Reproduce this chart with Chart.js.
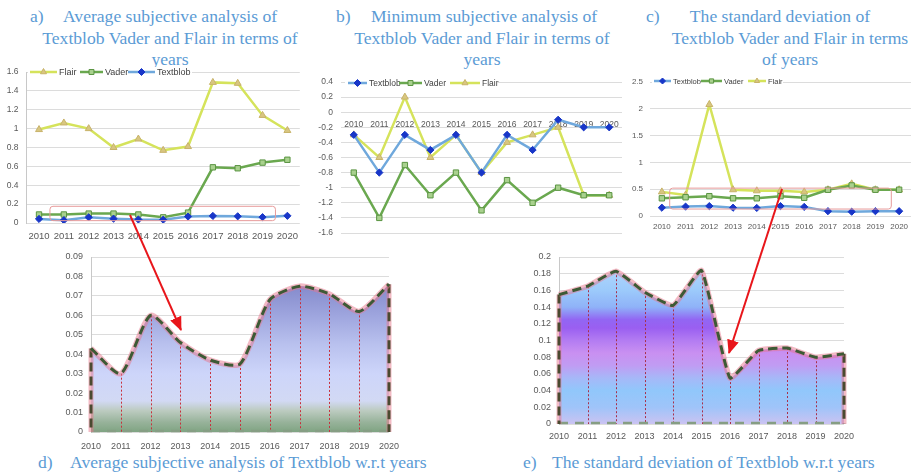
<!DOCTYPE html>
<html>
<head>
<meta charset="utf-8">
<script src="https://cdn.jsdelivr.net/npm/chart.js@4.4.1/dist/chart.umd.min.js"></script>
<style>
  html, body { margin: 0; padding: 0; background: #fff; }
  #page { position: relative; width: 916px; height: 473px; overflow: hidden; background: #fff; }
  #page canvas { position: absolute; }
  .cap { position: absolute; font-family: "Liberation Serif", "Times New Roman", serif; font-size: 17.6px;
         color: #5b9bd5; white-space: nowrap; line-height: 1; }
  .mid { transform: translate(-50%, -50%); }
  .lft { transform: translate(0, -50%); }
  #arrows { position: absolute; left: 0; top: 0; pointer-events: none; }
</style>
</head>
<body>
<div id="page">
  <!-- panel captions -->
  <div class="cap lft" style="left:30px;top:17px">a)</div>
  <div class="cap mid" style="left:170px;top:17px">Average subjective analysis of</div>
  <div class="cap mid" style="left:170px;top:39px">Textblob Vader and Flair in terms of</div>
  <div class="cap mid" style="left:170px;top:60px">years</div>

  <div class="cap lft" style="left:336px;top:17px">b)</div>
  <div class="cap mid" style="left:484px;top:17px">Minimum subjective analysis of</div>
  <div class="cap mid" style="left:482px;top:39px">Textblob Vader and Flair in terms of</div>
  <div class="cap mid" style="left:482px;top:60px">years</div>

  <div class="cap lft" style="left:646px;top:17px">c)</div>
  <div class="cap mid" style="left:780px;top:17px">The standard deviation of</div>
  <div class="cap mid" style="left:790px;top:39px">Textblob Vader and Flair in terms</div>
  <div class="cap mid" style="left:790px;top:60px">of years</div>

  <div class="cap lft" style="left:38px;top:463px">d)</div>
  <div class="cap lft" style="left:70px;top:463px">Average subjective analysis of Textblob w.r.t years</div>
  <div class="cap lft" style="left:523px;top:463px">e)</div>
  <div class="cap lft" style="left:552px;top:463px">The standard deviation of Textblob w.r.t years</div>

  <canvas id="cA"></canvas>
  <canvas id="cB"></canvas>
  <canvas id="cC"></canvas>
  <canvas id="cD"></canvas>
  <canvas id="cE"></canvas>

  <svg id="arrows" width="916" height="473">
    <defs>
      <marker id="head" markerUnits="userSpaceOnUse" markerWidth="14" markerHeight="12" refX="13" refY="6" orient="auto">
        <path d="M0,0 L14,6 L0,12 z" fill="#e8161b"/>
      </marker>
    </defs>
    <line x1="130" y1="215" x2="181" y2="330" stroke="#e8161b" stroke-width="2" marker-end="url(#head)"/>
    <line x1="782" y1="189" x2="729" y2="353" stroke="#e8161b" stroke-width="2" marker-end="url(#head)"/>
  </svg>
</div>

<script>
// ---- data ----
const years = ['2010', '2011', '2012', '2013', '2014', '2015', '2016', '2017', '2018', '2019', '2020'];

// a) average subjectivity per year
const avgFlair    = [0.99, 1.06, 1.00, 0.80, 0.89, 0.77, 0.81, 1.49, 1.48, 1.14, 0.98];
const avgVader    = [0.09, 0.09, 0.10, 0.10, 0.09, 0.06, 0.11, 0.59, 0.58, 0.64, 0.67];
const avgTextblob = [0.043, 0.030, 0.060, 0.046, 0.037, 0.035, 0.068, 0.075, 0.071, 0.062, 0.076];

// b) minimum subjectivity per year
const minTextblob = [-0.3, -0.8, -0.3, -0.5, -0.3, -0.8, -0.3, -0.5, -0.1, -0.2, -0.2];
const minVader    = [-0.8, -1.4, -0.7, -1.1, -0.8, -1.3, -0.9, -1.2, -1.0, -1.1, -1.1];
const minFlair    = [-0.3, -0.6, 0.2, -0.6, -0.3, -0.8, -0.4, -0.3, -0.2, -1.1, -1.1];

// c) standard deviation per year
const sdTextblob = [0.155, 0.175, 0.185, 0.155, 0.15, 0.185, 0.17, 0.09, 0.08, 0.09, 0.09];
const sdVader    = [0.33, 0.35, 0.37, 0.33, 0.33, 0.37, 0.34, 0.49, 0.57, 0.49, 0.49];
const sdFlair    = [0.45, 0.39, 2.08, 0.49, 0.47, 0.47, 0.45, 0.49, 0.60, 0.49, 0.49];

// e) standard deviation of Textblob alone
const sdTextblobDetail = [0.155, 0.165, 0.183, 0.158, 0.142, 0.184, 0.055, 0.088, 0.091, 0.080, 0.084];

// value axis ranges: [min, max, step]
const avgRange    = [0, 1.6, 0.2];
const minRange    = [-1.6, 0.4, 0.2];
const sdRange     = [0, 2.5, 0.5];
const avgTbRange  = [0, 0.09, 0.01];
const sdTbRange   = [0, 0.2, 0.02];

// ---- styling helpers ----
const TICK_FONT = "'Liberation Sans', Arial, sans-serif";
const TICK_COLOR = '#595959';
const fmt = v => String(Math.round(v * 1000) / 1000);

const FLAIR    = { line: '#d5e35b', fill: '#d8c680', edge: '#c8b36a', point: 'triangle', r: 4,   w: 2.5 };
const VADER    = { line: '#6aa84f', fill: '#a9d18e', edge: '#5a9442', point: 'rect',     r: 3.8, w: 2.5 };
const TEXTBLOB = { line: '#6fa8dc', fill: '#1836c8', edge: '#1836c8', point: 'rectRot',  r: 3.6, w: 2.5 };

function series(label, data, s) {
  return {
    label, data, borderColor: s.line, backgroundColor: s.fill,
    pointBackgroundColor: s.fill, pointBorderColor: s.edge, pointBorderWidth: 1,
    pointStyle: s.point, pointRadius: s.r, borderWidth: s.w, tension: 0, fill: false
  };
}

function yAxis(range, width, size, pad, border) {
  return {
    min: range[0], max: range[1],
    ticks: { stepSize: range[2], callback: fmt, color: TICK_COLOR, font: { family: TICK_FONT, size }, padding: pad },
    grid: { color: '#dcdcdc', drawTicks: false, lineWidth: 1 },
    border: { display: border, color: '#c8c8c8' },
    afterFit(s) { s.width = width; s.paddingTop = 0; s.paddingBottom = 0; }
  };
}

function xAxis(height, size, pad, offset, extra) {
  return Object.assign({
    type: 'category', offset,
    grid: { display: false, drawTicks: false },
    border: { display: false },
    ticks: { color: TICK_COLOR, font: { family: TICK_FONT, size }, padding: pad, maxRotation: 0, autoSkip: false },
    afterFit(s) { if (height != null) s.height = height; s.paddingLeft = 0; s.paddingRight = 0; }
  }, extra || {});
}

// legend drawn as line + marker + name, in page coordinates
const seriesKey = {
  id: 'seriesKey',
  afterDatasetsDraw(chart, args, o) {
    if (!o.items) return;
    const ctx = chart.ctx;
    const dx = o.dx, dy = o.dy, y = o.y - dy;
    ctx.save();
    ctx.fillStyle = '#fff';
    ctx.fillRect(o.bg[0] - dx, y - 5, o.bg[1] - o.bg[0], 10);
    ctx.font = o.size + 'px ' + TICK_FONT;
    ctx.textBaseline = 'middle';
    o.items.forEach(it => {
      const ds = chart.data.datasets[it.ds];
      const x0 = it.x0 - dx, x1 = it.x1 - dx;
      ctx.strokeStyle = ds.borderColor; ctx.lineWidth = ds.borderWidth;
      ctx.beginPath(); ctx.moveTo(x0, y); ctx.lineTo(x1, y); ctx.stroke();
      ctx.fillStyle = ds.pointBackgroundColor; ctx.strokeStyle = ds.pointBorderColor; ctx.lineWidth = 1;
      Chart.helpers.drawPoint(ctx, { pointStyle: ds.pointStyle, radius: o.r, rotation: 0, borderWidth: 1 }, (x0 + x1) / 2, y);
      ctx.fillStyle = '#404040';
      ctx.fillText(ds.label, x1 + 2, y + 0.5);
    });
    ctx.restore();
  }
};

// thin rounded frame around a data region (category index / value units)
const focusBox = {
  id: 'focusBox',
  afterDatasetsDraw(chart, args, o) {
    if (!o.box) return;
    const { x, y } = chart.scales;
    const b = o.box;
    const l = x.getPixelForValue(b[0]), r = x.getPixelForValue(b[1]);
    const t = y.getPixelForValue(b[3]), btm = y.getPixelForValue(b[2]);
    const ctx = chart.ctx;
    ctx.save();
    ctx.strokeStyle = '#e79a9a'; ctx.lineWidth = 1;
    ctx.beginPath();
    ctx.roundRect(l, t, r - l, btm - t, 3);
    ctx.stroke();
    ctx.restore();
  }
};

// area decorations: dotted drop lines, dashed outline edges and base
const areaTrim = {
  id: 'areaTrim',
  afterDatasetDraw(chart, args, o) {
    if (o.fillIndex == null || args.index !== o.fillIndex) return;
    const ctx = chart.ctx;
    const pts = chart.getDatasetMeta(args.index).data;
    const y0 = chart.scales.y.getPixelForValue(0);
    const n = pts.length;
    ctx.save();
    // drop lines
    ctx.strokeStyle = o.dropColor; ctx.lineWidth = 1; ctx.setLineDash([2, 2]);
    for (let i = 1; i < n - 1; i++) {
      ctx.beginPath(); ctx.moveTo(Math.round(pts[i].x) + 0.5, pts[i].y); ctx.lineTo(Math.round(pts[i].x) + 0.5, y0); ctx.stroke();
    }
    // base dashes
    ctx.setLineDash([9, 7]);
    ctx.strokeStyle = o.baseColor; ctx.lineWidth = 2.5;
    ctx.beginPath(); ctx.moveTo(pts[0].x, y0 - 1); ctx.lineTo(pts[n - 1].x, y0 - 1); ctx.stroke();
    // side edges with glow
    [pts[0], pts[n - 1]].forEach(p => {
      ctx.setLineDash([]);
      ctx.strokeStyle = 'rgba(232,120,140,0.5)'; ctx.lineWidth = 5;
      ctx.beginPath(); ctx.moveTo(p.x, p.y); ctx.lineTo(p.x, y0); ctx.stroke();
      ctx.setLineDash([9, 5]);
      ctx.strokeStyle = o.edgeColor; ctx.lineWidth = 3;
      ctx.beginPath(); ctx.moveTo(p.x, p.y); ctx.lineTo(p.x, y0); ctx.stroke();
    });
    ctx.restore();
  }
};

function gradientFill(stops) {
  return (c) => {
    const chart = c.chart;
    if (!chart.chartArea) return 'rgba(0,0,0,0)';
    const y = chart.scales.y;
    const top = y.getPixelForValue(y.max), bot = y.getPixelForValue(y.min);
    const g = chart.ctx.createLinearGradient(0, top, 0, bot);
    stops.forEach(([v, col]) => g.addColorStop((y.getPixelForValue(v) - top) / (bot - top), col));
    return g;
  };
}

function place(id, left, top, width, height) {
  const cv = document.getElementById(id);
  cv.width = width; cv.height = height;
  cv.style.left = left + 'px'; cv.style.top = top + 'px';
  cv.style.width = width + 'px'; cv.style.height = height + 'px';
  return cv;
}

const common = (padding, plugins) => ({
  responsive: false, animation: false, devicePixelRatio: 1,
  layout: { padding },
  plugins: Object.assign({ legend: { display: false }, tooltip: { enabled: false } }, plugins)
});

// ---- a) average of the three analysers ----
(function () {
  const L = 0, T = 62;
  const cv = place('cA', L, T, 305, 190);
  new Chart(cv, {
    type: 'line',
    data: { labels: years, datasets: [
      series('Textblob', avgTextblob, TEXTBLOB),
      series('Vader', avgVader, VADER),
      series('Flair', avgFlair, FLAIR)
    ] },
    options: Object.assign(common({ left: 0, top: 10, right: 5.2, bottom: 0 }, {
      seriesKey: { dx: L, dy: T, y: 72, size: 9, r: 3.5, bg: [28, 192], items: [
        { ds: 2, x0: 30, x1: 57 }, { ds: 1, x0: 80, x1: 103 }, { ds: 0, x0: 128, x1: 155 }
      ] },
      focusBox: { box: [0.44, 9.52, 0.025, 0.177] }
    }), {
      scales: {
        x: xAxis(29, 9.5, 8, true),
        y: yAxis(avgRange, 26.6, 8.5, 8, true)
      }
    }),
    plugins: [seriesKey, focusBox]
  });
})();

// ---- b) minimum of the three analysers ----
(function () {
  const L = 305, T = 70;
  const cv = place('cB', L, T, 322, 168);
  new Chart(cv, {
    type: 'line',
    data: { labels: years, datasets: [
      series('Textblob', minTextblob, TEXTBLOB),
      series('Vader', minVader, VADER),
      series('Flair', minFlair, FLAIR)
    ] },
    options: Object.assign(common({ left: 0, top: 12, right: 2, bottom: 5 }, {
      seriesKey: { dx: L, dy: T, y: 83, size: 8.5, r: 3.5, bg: [345, 498], items: [
        { ds: 0, x0: 348, x1: 367 }, { ds: 1, x0: 399, x1: 422 }, { ds: 2, x0: 450, x1: 480 }
      ] }
    }), {
      scales: {
        x: xAxis(null, 8.5, 7, true, { position: { y: 0 } }),
        y: yAxis(minRange, 36, 8.5, 8, false)
      }
    }),
    plugins: [seriesKey]
  });
})();

// ---- c) standard deviation of the three analysers ----
(function () {
  const L = 615, T = 70;
  const cv = place('cC', L, T, 301, 170);
  new Chart(cv, {
    type: 'line',
    data: { labels: years, datasets: [
      series('Textblob', sdTextblob, TEXTBLOB),
      series('Vader', sdVader, VADER),
      series('Flair', sdFlair, FLAIR)
    ] },
    options: Object.assign(common({ left: 0, top: 12, right: 1, bottom: 0 }, {
      seriesKey: { dx: L, dy: T, y: 81, size: 7.5, r: 3, bg: [652, 783], items: [
        { ds: 0, x0: 654, x1: 671 }, { ds: 1, x0: 701, x1: 722 }, { ds: 2, x0: 748, x1: 766 }
      ] },
      focusBox: { box: [0.33, 9.67, 0.13, 0.52] }
    }), {
      scales: {
        x: xAxis(24, 8, 6, true),
        y: yAxis(sdRange, 35, 8, 7, false)
      }
    }),
    plugins: [seriesKey, focusBox]
  });
})();

// ---- shared builder for the Textblob area panels ----
function areaPanel(id, L, T, W, H, pad, yW, xH, xPad, range, data, stops, tension, dropColor) {
  const cv = place(id, L, T, W, H);
  const ln = { data, pointRadius: 0, fill: false, tension };
  new Chart(cv, {
    type: 'line',
    data: { labels: years, datasets: [
      Object.assign({ label: 'Textblob', borderColor: '#3d5a35', borderWidth: 3, borderDash: [9, 5] }, ln),
      Object.assign({ label: 'glow', borderColor: 'rgba(232,118,140,0.5)', borderWidth: 5.5 }, ln),
      Object.assign({}, ln, { label: 'area', borderWidth: 0, borderColor: 'rgba(0,0,0,0)', fill: 'origin', backgroundColor: gradientFill(stops) })
    ] },
    options: Object.assign(common(pad, {
      areaTrim: { fillIndex: 2, dropColor, baseColor: '#869e84', edgeColor: '#4a4a30' }
    }), {
      scales: {
        x: xAxis(xH, 9, xPad, false),
        y: yAxis(range, yW, 9, 8, true)
      }
    }),
    plugins: [areaTrim]
  });
}

// ---- d) average subjectivity of Textblob ----
areaPanel('cD', 55, 245, 345, 212, { left: 0, top: 12, right: 11, bottom: 0 }, 36, 25, 9,
  avgTbRange, avgTextblob, [
    [0.09, '#6c71bb'], [0.075, '#858bcc'], [0.06, '#9ea5de'], [0.045, '#b9c1ee'],
    [0.03, '#cdd5fa'], [0.016, '#d2d9f4'], [0.011, '#bccbc0'], [0.005, '#97b29a'], [0, '#7fa482']
  ], 0.22, '#c8303c');

// ---- e) standard deviation of Textblob ----
areaPanel('cE', 520, 245, 340, 200, { left: 0, top: 12, right: 16, bottom: 0 }, 39, 21, 7,
  sdTbRange, sdTextblobDetail, [
    [0.2, '#b9dcfc'], [0.16, '#9ccafb'], [0.14, '#8fb2f8'], [0.125, '#9266f3'], [0.115, '#9a5ff1'],
    [0.1, '#b37cf2'], [0.085, '#c990f1'], [0.07, '#c09cf3'], [0.055, '#a6b8f8'], [0.04, '#91c7fb'],
    [0.02, '#9fc4f9'], [0, '#cbc3f2']
  ], 0.12, '#a8304a');
</script>
</body>
</html>
